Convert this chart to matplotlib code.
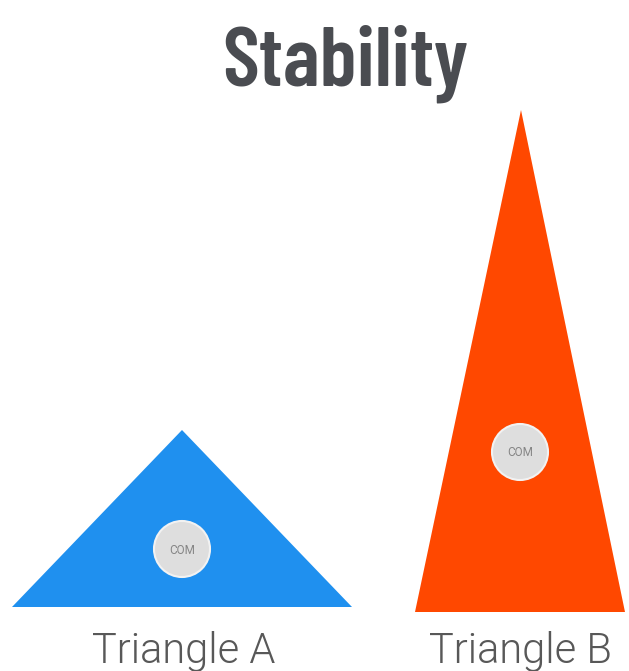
import matplotlib.pyplot as plt
from matplotlib.patches import Polygon, Circle

# Triangle data (pixel units of the diagram)
names = ['Triangle A', 'Triangle B']
base_left = [12, 415]
base_right = [352, 625]
base_y = [607, 612]
apex_x = [182, 521]
apex_y = [430, 110]
com_x = [182, 520]
com_y = [549, 452]
label_x = [184, 520]
colors = ['#1f90ef', '#ff4800']

fig = plt.figure(figsize=(6.29, 6.71), dpi=100)
ax = fig.add_axes([0, 0, 1, 1])
ax.set_xlim(0, 629)
ax.set_ylim(671, 0)
ax.axis('off')

for i in range(len(names)):
    tri = Polygon([(base_left[i], base_y[i]), (base_right[i], base_y[i]),
                   (apex_x[i], apex_y[i])], closed=True, color=colors[i], lw=0)
    ax.add_patch(tri)
    ax.add_patch(Circle((com_x[i], com_y[i]), 28, facecolor='#dedede',
                        edgecolor='#f2f2f2', lw=1.5))
    ax.text(com_x[i], com_y[i] + 1, 'COM', ha='center', va='center',
            fontsize=8.5, color='#858585', family=['Roboto', 'DejaVu Sans'])
    ax.text(label_x[i], 663, names[i], ha='center', va='baseline',
            fontsize=30, fontweight=300, color='#585858',
            family=['Roboto', 'DejaVu Sans'])

ax.text(345, 86, 'Stability', ha='center', va='baseline', fontsize=61,
        fontweight=600, color='#4a4c51',
        family=['Barlow Condensed', 'DejaVu Sans'])

fig.savefig('out.png', dpi=100)
